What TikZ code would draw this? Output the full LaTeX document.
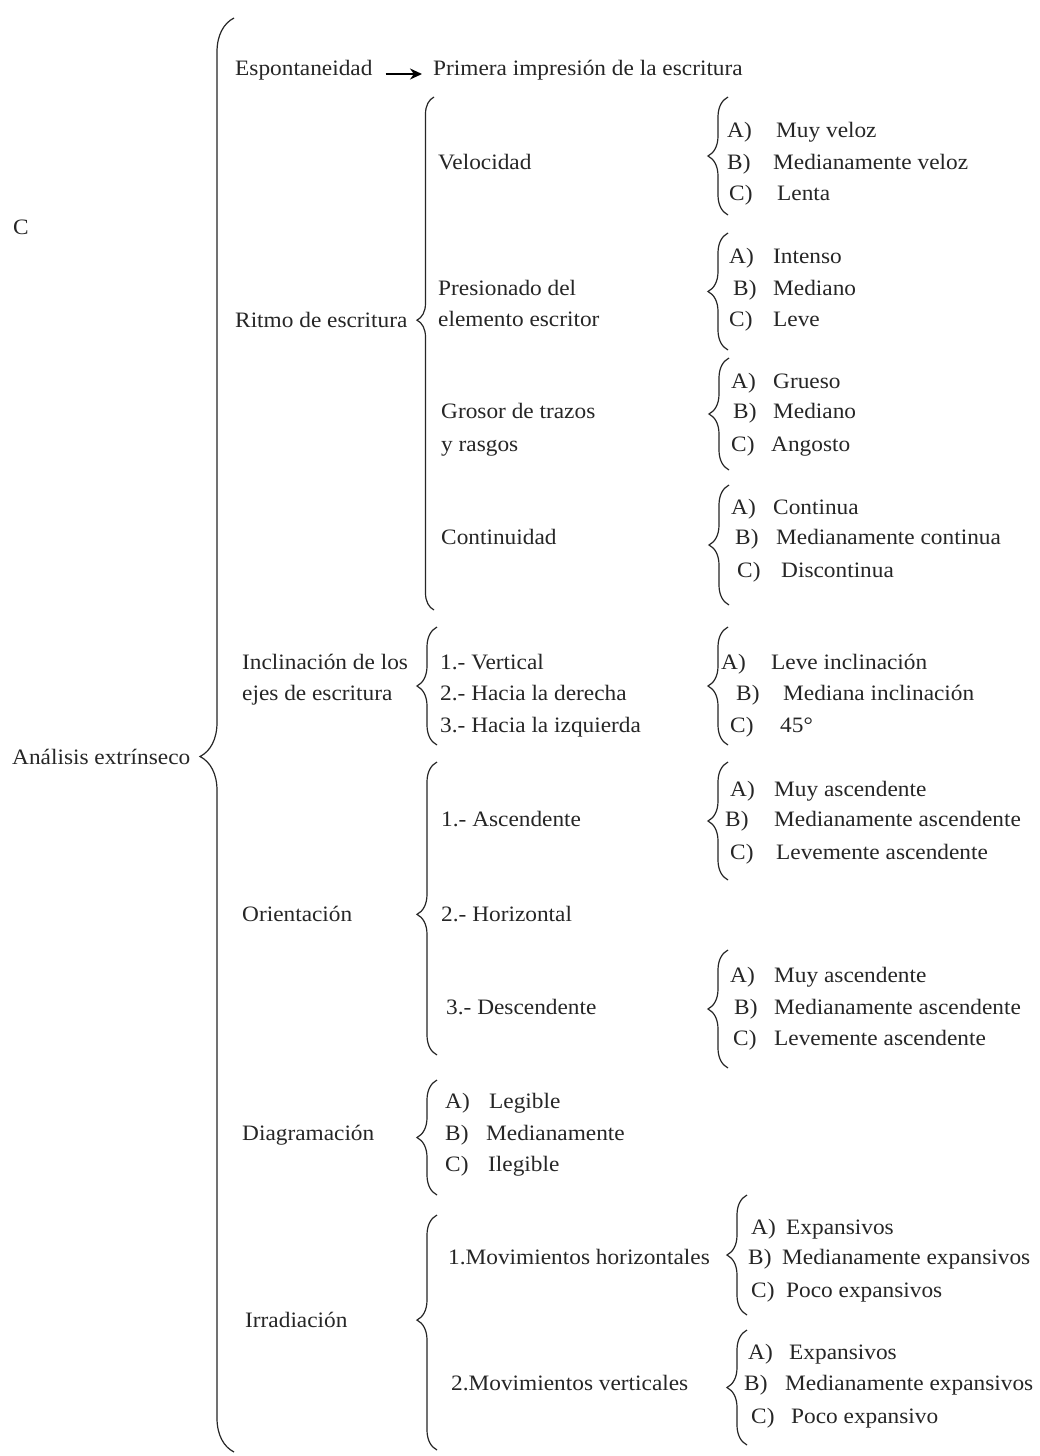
\documentclass[tikz,border=0pt]{standalone}
\usepackage{fontspec}
\setmainfont{Liberation Serif}[FakeStretch=1.06]
\usetikzlibrary{decorations.pathreplacing,arrows.meta}
\tikzset{
 lbl/.style={anchor=base west, inner sep=0pt, text=black!85, font=\fontsize{22}{26}\selectfont},
 brc/.style={decorate, decoration={brace, amplitude=#1}, line width=1.2pt, black!85},
 brc/.default=20pt,
 arr/.style={-{Stealth[length=12pt,width=11pt]}, line width=2pt}
}
\newcommand\opt[6]{\node[lbl] (#1a) at (#2,#4) {#5};\node[lbl] (#1b) at (#3,#4) {#6};}
\begin{document}
\begin{tikzpicture}[x=1pt,y=-1pt]
\useasboundingbox[fill=white] (0,0) rectangle (1039,1456);
% level 0
\node[lbl] (c) at (13,234) {C};
\node[lbl] (root) at (12,764) {Análisis extrínseco};
\draw[brc=34pt, decoration={aspect=0.485}] (234,1452) -- (234,18);
% level 1
\node[lbl] (esp) at (235,75) {Espontaneidad};
\node[lbl] (pri) at (433,75) {Primera impresión de la escritura};
\draw[arr] ([xshift=13pt,yshift=1pt]esp.base east) -- ([xshift=-11pt,yshift=1pt]pri.base west);
\node[lbl] (rit) at (235,327) {Ritmo de escritura};
\node[lbl] (inc1) at (242,669) {Inclinación de los};
\node[lbl] (inc2) at (242,700) {ejes de escritura};
\node[lbl] (ori) at (242,921) {Orientación};
\node[lbl] (dia) at (242,1140) {Diagramación};
\node[lbl] (irr) at (245,1327) {Irradiación};
% Ritmo
\draw[brc=17pt, decoration={aspect=0.565}] (434,610) -- (434,97);
\node[lbl] (vel) at (438,169) {Velocidad};
\node[lbl] (pre1) at (438,295) {Presionado del};
\node[lbl] (pre2) at (438,326) {elemento escritor};
\node[lbl] (gro1) at (441,418) {Grosor de trazos};
\node[lbl] (gro2) at (441,451) {y rasgos};
\node[lbl] (con) at (441,544) {Continuidad};
\draw[brc] (728,215) -- (728,97);
\opt{va}{727}{776}{137}{A)}{Muy veloz}
\opt{vb}{727}{773}{169}{B)}{Medianamente veloz}
\opt{vc}{729}{777}{200}{C)}{Lenta}
\draw[brc] (728,350) -- (728,233);
\opt{pa}{729}{773}{263}{A)}{Intenso}
\opt{pb}{733}{773}{295}{B)}{Mediano}
\opt{pc}{729}{773}{326}{C)}{Leve}
\draw[brc] (729,470) -- (729,358);
\opt{ga}{731}{773}{388}{A)}{Grueso}
\opt{gb}{733}{773}{418}{B)}{Mediano}
\opt{gc}{731}{771}{451}{C)}{Angosto}
\draw[brc] (729,605) -- (729,485);
\opt{ca}{731}{773}{514}{A)}{Continua}
\opt{cb}{735}{776}{544}{B)}{Medianamente continua}
\opt{cc}{737}{781}{577}{C)}{Discontinua}
% Inclinacion
\draw[brc] (437,745) -- (437,627);
\node[lbl] (i1) at (440,669) {1.- Vertical};
\node[lbl] (i2) at (440,700) {2.- Hacia la derecha};
\node[lbl] (i3) at (440,732) {3.- Hacia la izquierda};
\draw[brc] (728,745) -- (728,627);
\opt{ia}{721}{771}{669}{A)}{Leve inclinación}
\opt{ib}{736}{783}{700}{B)}{Mediana inclinación}
\opt{ic}{730}{780}{732}{C)}{45°}
% Orientacion
\draw[brc, decoration={aspect=0.48}] (437,1055) -- (437,762);
\node[lbl] (o1) at (441,826) {1.- Ascendente};
\node[lbl] (o2) at (441,921) {2.- Horizontal};
\node[lbl] (o3) at (446,1014) {3.- Descendente};
\draw[brc] (728,880) -- (728,762);
\opt{aa}{730}{774}{796}{A)}{Muy ascendente}
\opt{ab}{725}{774}{826}{B)}{Medianamente ascendente}
\opt{ac}{730}{776}{859}{C)}{Levemente ascendente}
\draw[brc] (728,1068) -- (728,950);
\opt{da}{730}{774}{982}{A)}{Muy ascendente}
\opt{db}{734}{774}{1014}{B)}{Medianamente ascendente}
\opt{dc}{733}{774}{1045}{C)}{Levemente ascendente}
% Diagramacion
\draw[brc] (437,1195) -- (437,1080);
\opt{ga2}{445}{489}{1108}{A)}{Legible}
\opt{gb2}{445}{486}{1140}{B)}{Medianamente}
\opt{gc2}{445}{488}{1171}{C)}{Ilegible}
% Irradiacion
\draw[brc, decoration={aspect=0.553}] (437,1450) -- (437,1215);
\node[lbl] (m1) at (448,1264) {1.Movimientos horizontales};
\node[lbl] (m2) at (451,1390) {2.Movimientos verticales};
\draw[brc] (747,1315) -- (747,1195);
\opt{ha}{751}{786}{1234}{A)}{Expansivos}
\opt{hb}{748}{782}{1264}{B)}{Medianamente expansivos}
\opt{hc}{751}{786}{1297}{C)}{Poco expansivos}
\draw[brc] (747,1445) -- (747,1330);
\opt{ua}{748}{789}{1359}{A)}{Expansivos}
\opt{ub}{744}{785}{1390}{B)}{Medianamente expansivos}
\opt{uc}{751}{791}{1423}{C)}{Poco expansivo}
\end{tikzpicture}
\end{document}
